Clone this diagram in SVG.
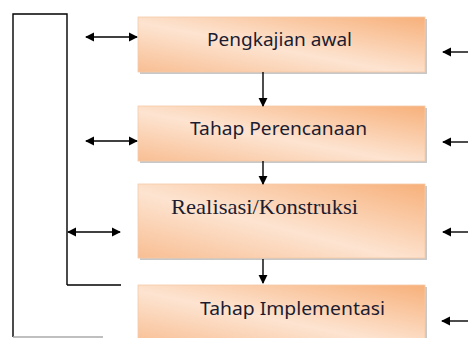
<svg xmlns="http://www.w3.org/2000/svg" width="468" height="338" viewBox="0 0 468 338">
<defs>
<linearGradient id="g" x1="1" y1="0" x2="0" y2="1">
<stop offset="0" stop-color="#F7B07A"/>
<stop offset="0.55" stop-color="#FDE4D1"/>
<stop offset="1" stop-color="#F8BE93"/>
</linearGradient>
<marker id="ah" viewBox="0 0 10 10" refX="9" refY="5" markerWidth="6.5" markerHeight="6.5" markerUnits="strokeWidth" orient="auto-start-reverse">
<path d="M0,0 L10,5 L0,10 Z" fill="#000"/>
</marker>
</defs>
<style>
.shadow{fill:#9a9a9a;opacity:0.55}
.box{fill:url(#g);stroke:#F6CBA8;stroke-width:0.8}
.cal{font-family:"Noto Sans","Open Sans",sans-serif;font-size:18.5px;fill:#1c1c30}
.tms{font-family:"Liberation Serif","Times New Roman",serif;font-size:21px;fill:#1c1c30}
.ln{stroke:#000;stroke-width:1.4;fill:none}
.ar{stroke:#000;stroke-width:1.4;fill:none;marker-end:url(#ah)}
.dar{stroke:#000;stroke-width:1.4;fill:none;marker-end:url(#ah);marker-start:url(#ah)}
</style>
<rect width="468" height="338" fill="#fff"/>
<g id="n1">
<rect class="shadow" x="140" y="19" width="287" height="55"/>
<rect class="box" x="138" y="17" width="287" height="55"/>
<text class="cal" x="207" y="46" textLength="145" lengthAdjust="spacingAndGlyphs">Pengkajian awal</text>
</g>
<g id="n2">
<rect class="shadow" x="140" y="108" width="287" height="55"/>
<rect class="box" x="138" y="106" width="287" height="55"/>
<text class="cal" x="190" y="135" textLength="177" lengthAdjust="spacingAndGlyphs">Tahap Perencanaan</text>
</g>
<g id="n3">
<rect class="shadow" x="140" y="186" width="287" height="74"/>
<rect class="box" x="138" y="184" width="287" height="74"/>
<text class="tms" x="171" y="214" textLength="187" lengthAdjust="spacingAndGlyphs">Realisasi/Konstruksi</text>
</g>
<g id="n4">
<rect class="shadow" x="140" y="287" width="287" height="60"/>
<rect class="box" x="138" y="285" width="287" height="60"/>
<text class="cal" x="200" y="315" textLength="185" lengthAdjust="spacingAndGlyphs">Tahap Implementasi</text>
</g>
<g id="connectors">
<path class="ln" d="M67,285 L67,14 L13,14 L13,337"/>
<path class="ln" d="M67,285 L121,285"/>
<path d="M13,337 L103,337" stroke="#aaa" stroke-width="1.4"/>
<path class="dar" d="M86,37 L137,37"/>
<path class="dar" d="M86,141 L137,141"/>
<path class="dar" d="M68,232 L120,232"/>
<path class="ar" d="M263,72 L263,106"/>
<path class="ar" d="M263,161 L263,184"/>
<path class="ar" d="M263,259 L263,283"/>
<path class="ar" d="M468,52 L443,52"/>
<path class="ar" d="M468,142 L443,142"/>
<path class="ar" d="M468,232 L443,232"/>
<path class="ar" d="M468,321 L442,321"/>
</g>
</svg>
